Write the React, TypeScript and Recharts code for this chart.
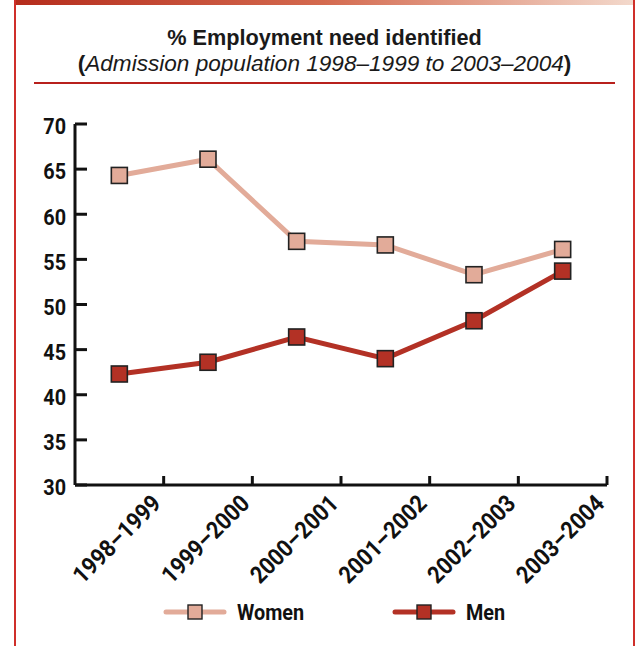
import React from "react";
import { LineChart, Line, XAxis, YAxis } from "recharts";

const categories = [
  "1998–1999",
  "1999–2000",
  "2000–2001",
  "2001–2002",
  "2002–2003",
  "2003–2004",
];
const women = [64.3, 66.1, 57.0, 56.6, 53.3, 56.1];
const men = [42.3, 43.6, 46.4, 44.0, 48.2, 53.7];
const yTicks = [30, 35, 40, 45, 50, 55, 60, 65, 70];

const WOMEN_COLOR = "#e2ab99";
const MEN_COLOR = "#b33125";
const FRAME_RED = "#cf2f2a";
const SANS = "'Liberation Sans', Arial, Helvetica, sans-serif";

const data = categories.map((c, i) => ({ year: c, women: women[i], men: men[i] }));

const W = 641;
const H = 646;
const PLOT_LEFT = 75;
const PLOT_RIGHT = 607;
const PLOT_TOP = 124;
const PLOT_BOTTOM = 485;
const STEP = (PLOT_RIGHT - PLOT_LEFT) / categories.length;

// condensed bold look (no Helvetica Condensed available): Roboto squeezed horizontally
const NarrowText = ({ x, y, rotate = 0, anchor = "start", baseline, size = 22, children }: any) => (
  <text
    transform={`translate(${x},${y}) rotate(${rotate}) scale(0.9,1)`}
    textAnchor={anchor}
    dominantBaseline={baseline}
    fontFamily="Roboto, 'DejaVu Sans Condensed', sans-serif"
    fontWeight={700}
    fontSize={size}
    fill="#111"
  >
    {children}
  </text>
);

const SquareDot = (size: number) => (props: any) => {
  const { cx, cy, fill, index } = props;
  if (cx == null || cy == null) return null;
  return (
    <rect
      key={`sq-${index}`}
      x={cx - size / 2}
      y={cy - size / 2}
      width={size}
      height={size}
      fill={fill}
      stroke="#222"
      strokeWidth={1.6}
    />
  );
};

const XTick = (props: any) => {
  const { x, y, payload } = props;
  return (
    <g>
      <line x1={x + STEP / 2} x2={x + STEP / 2} y1={y} y2={y - 9} stroke="#111" strokeWidth={3} />
      <NarrowText x={x + 43} y={y + 20} rotate={-45} anchor="end" size={24}>
        {payload.value}
      </NarrowText>
    </g>
  );
};

const YTick = (props: any) => {
  const { y, payload } = props;
  return (
    <g>
      <line x1={PLOT_LEFT} x2={PLOT_LEFT + 12} y1={y} y2={y} stroke="#111" strokeWidth={3} />
      <NarrowText x={PLOT_LEFT - 9} y={y + 3} anchor="end" baseline="central">
        {payload.value}
      </NarrowText>
    </g>
  );
};

const legendItems = [
  { name: "Women", color: WOMEN_COLOR, x: 166 },
  { name: "Men", color: MEN_COLOR, x: 395 },
];

export default function App() {
  return (
    <div
      style={{
        position: "absolute",
        left: 0,
        top: 0,
        width: W,
        height: H,
        background: "#fff",
        overflow: "hidden",
      }}
    >
      {/* top gradient strip and frame */}
      <div
        style={{
          position: "absolute",
          left: 14,
          top: 0,
          width: 620,
          height: 5,
          background: "linear-gradient(to right, #b52c1c, #d46a4f 50%, #f3d9cc)",
        }}
      />
      <div style={{ position: "absolute", left: 14, top: 0, width: 2, height: H, background: FRAME_RED }} />
      <div style={{ position: "absolute", left: 633, top: 0, width: 2, height: H, background: FRAME_RED }} />

      {/* title */}
      <div
        style={{
          position: "absolute",
          left: 16,
          width: 617,
          top: 25,
          textAlign: "center",
          fontFamily: SANS,
          lineHeight: "26px",
          color: "#1a1a1a",
        }}
      >
        <div style={{ fontWeight: "bold", fontSize: 21.7 }}>% Employment need identified</div>
        <div style={{ fontSize: 22.6 }}>
          <b>(</b>
          <i>Admission population 1998–1999 to 2003–2004</i>
          <b>)</b>
        </div>
      </div>
      <div
        style={{
          position: "absolute",
          left: 34,
          top: 82,
          width: 581,
          height: 2,
          background: "#b8201c",
        }}
      />

      <div style={{ position: "absolute", left: 0, top: 0 }}>
        <LineChart
          width={W}
          height={H}
          data={data}
          margin={{ top: PLOT_TOP, right: W - PLOT_RIGHT, bottom: 0, left: 15 }}
        >
          <XAxis
            dataKey="year"
            type="category"
            interval={0}
            height={H - PLOT_BOTTOM}
            padding={{ left: STEP / 2, right: STEP / 2 }}
            tickSize={0}
            tickMargin={0}
            tickLine={false}
            axisLine={{ stroke: "#111", strokeWidth: 3 }}
            tick={<XTick />}
          />
          <YAxis
            type="number"
            domain={[30, 70]}
            ticks={yTicks}
            interval={0}
            width={PLOT_LEFT - 15}
            tickSize={0}
            tickMargin={0}
            tickLine={false}
            axisLine={{ stroke: "#111", strokeWidth: 3 }}
            tick={<YTick />}
          />
          <Line
            dataKey="women"
            stroke={WOMEN_COLOR}
            fill={WOMEN_COLOR}
            strokeWidth={5}
            dot={SquareDot(16)}
            activeDot={false}
            isAnimationActive={false}
          />
          <Line
            dataKey="men"
            stroke={MEN_COLOR}
            fill={MEN_COLOR}
            strokeWidth={5}
            dot={SquareDot(16)}
            activeDot={false}
            isAnimationActive={false}
          />
        </LineChart>
      </div>

      {/* legend */}
      <svg style={{ position: "absolute", left: 0, top: 595 }} width={W} height={40}>
        {legendItems.map((item) => (
          <g key={item.name}>
            <line
              x1={item.x}
              x2={item.x + 58}
              y1={17}
              y2={17}
              stroke={item.color}
              strokeWidth={5}
              strokeLinecap="round"
            />
            <rect
              x={item.x + 22}
              y={10}
              width={14}
              height={14}
              fill={item.color}
              stroke="#222"
              strokeWidth={1.4}
            />
            <NarrowText x={item.x + 71} y={18} baseline="central">
              {item.name}
            </NarrowText>
          </g>
        ))}
      </svg>
    </div>
  );
}
